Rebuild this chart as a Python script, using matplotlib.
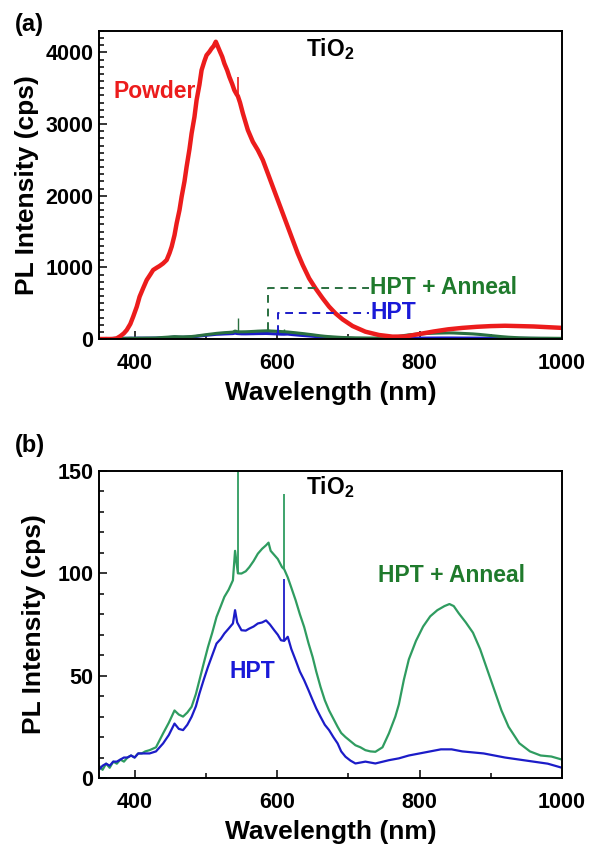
import matplotlib
matplotlib.use("Agg")
import matplotlib.pyplot as plt
from matplotlib.ticker import MultipleLocator

plt.rcParams['font.family'] = ['Liberation Sans', 'DejaVu Sans']
plt.rcParams['font.weight'] = 'bold'
plt.rcParams['mathtext.fontset'] = 'custom'
plt.rcParams['mathtext.rm'] = 'Liberation Sans'
plt.rcParams['mathtext.bf'] = 'Liberation Sans:bold'

# ---------------- data ----------------
wl_powder = [352, 370, 375, 380, 385, 389, 394, 398, 403, 407, 412, 417, 422, 426, 431,
             435, 440, 445, 449, 452, 456, 459, 463, 466, 470, 473, 477, 480, 484, 487,
             491, 494, 498, 501, 505, 508, 511, 514, 517, 519, 523, 526, 530, 533, 537,
             540, 543, 545, 548, 552, 559, 566, 573, 580, 587, 594, 601,
             608, 615, 622, 629, 636, 645, 654, 664, 673, 682, 692, 706, 724, 743, 762,
             780, 800, 820, 840, 860, 880, 900, 920, 940, 960, 980, 1000]
pl_powder = [0, 0, 10, 40, 80, 126, 210, 312, 450, 591, 710, 824, 900, 963, 995,
             1019, 1055, 1103, 1200, 1289, 1450, 1614, 1800, 1986, 2200, 2405, 2650, 2870, 3100, 3335,
             3550, 3753, 3880, 3962, 4010, 4055, 4090, 4150, 4080, 4032, 3940, 3846, 3750, 3660, 3560,
             3474, 3420, 3390, 3300, 3149, 2916, 2753, 2637, 2498, 2312, 2125, 1939,
             1753, 1567, 1381, 1196, 1033, 847, 707, 568, 452, 358, 274, 181, 102, 56, 33,
             35, 70, 105, 135, 155, 170, 180, 185, 180, 175, 165, 155]
# narrow spikes: wavelength, foot, top
spike_powder_wl = [545]
spike_powder_lo = [3390]
spike_powder_hi = [3660]

wl_anneal = [350, 355, 360, 365, 370, 375, 380, 385, 390, 395, 400, 405, 410, 415, 421,
             430, 440, 448, 456, 462, 468, 474, 480, 486, 491, 497, 503, 509, 515, 521,
             526, 532, 538, 541, 545, 550, 556, 561, 567, 573, 579, 584.5, 588,
             591, 596, 601, 607, 610, 615, 620, 626, 632, 638, 644, 650, 655,
             661, 667, 673, 679, 685, 690, 696, 703, 710, 717, 724, 731, 738, 748, 757,
             766, 771, 778, 785, 795, 805, 815, 825, 835, 842, 848, 855, 865, 875, 885,
             895, 905, 915, 925, 940, 955, 970, 985, 1000]
pl_anneal = [6, 4, 7, 5, 8, 7, 9, 8, 10, 11, 10, 12, 12, 13, 13.6,
             15, 21.8, 27, 33, 31, 30, 32, 34.8, 41, 47.8, 56, 64, 71, 78.7, 84,
             88.5, 92, 96.6, 111, 100, 99.9, 101, 103, 106, 109.6, 112, 113.7, 115,
             111, 109, 107, 103, 102, 98, 93, 86.9, 80, 73.8, 66, 59, 52,
             44.5, 38, 33, 29, 25, 22, 20, 18, 16, 15, 13.6, 13, 12.8, 15, 21.8,
             30, 36, 48, 58, 67, 74, 79, 82, 84, 85, 84, 80.5, 76, 71, 63,
             53, 43, 33, 25, 17, 13, 11, 10.5, 9]
spike_anneal_wl = [545, 610]
spike_anneal_lo = [100, 102]
spike_anneal_hi = [290, 139]

wl_hpt = [350, 355, 360, 365, 370, 375, 380, 385, 390, 395, 400, 405, 410, 415, 421,
          430, 440, 448, 456, 462, 468, 474, 480, 486, 491, 497, 503, 509, 515, 521,
          526, 532, 538, 541, 544, 550, 556, 561, 567, 573, 579, 584.5, 590, 596, 601,
          605.5, 610, 615, 620, 626, 632, 638, 644, 650, 655, 661, 667, 673,
          679, 685, 690, 696, 703, 710, 724, 738, 757, 771, 785, 800, 815, 830, 845,
          860, 875, 890, 905, 920, 940, 960, 980, 1000]
pl_hpt = [4, 6, 7, 6, 8, 8, 9, 10, 10, 11, 10, 12, 12, 12, 12,
          13, 16.9, 21, 26.6, 24, 23.4, 26, 29.9, 35, 41.3, 48, 54.3, 60, 65.7, 68,
          70.6, 73, 75.5, 82, 76, 72.2, 72, 73, 74, 75.5, 76, 77, 75, 72.2, 70,
          67.3, 67, 69, 63, 57.6, 52, 47.8, 43, 38, 34, 29.9, 26, 23.4,
          20, 16.9, 13, 10.4, 8.5, 7.1, 8, 7.1, 8.7, 9.6, 11, 12, 13, 14, 14,
          13, 12.5, 12, 11, 10, 9, 8, 7, 5]
spike_hpt_wl = [610]
spike_hpt_lo = [67]
spike_hpt_hi = [97.4]

x_ticks = [400, 600, 800, 1000]
y_ticks_a = [0, 1000, 2000, 3000, 4000]
y_ticks_b = [0, 50, 100, 150]

# ---------------- colours ----------------
RED = '#ec1c1c'
BLUE = '#1c1cc8'
GREEN_A = '#2a7040'
GREEN_B = '#2f9c60'
GREEN_TXT = '#1f7a2c'
BLUE_TXT = '#1a1ad8'

W, H = 591, 849
fig = plt.figure(figsize=(W / 100, H / 100), dpi=100)

def px_axes(left, top, right, bottom):
    return fig.add_axes([left / W, 1 - bottom / H, (right - left) / W, (bottom - top) / H])

axA = px_axes(99, 31, 562, 339)
axB = px_axes(99, 471, 562, 778)

def style(ax, yticks, ymax, yminor):
    ax.set_xlim(350, 1000)
    ax.set_ylim(0, ymax)
    ax.set_xticks(x_ticks)
    ax.set_yticks(yticks)
    ax.xaxis.set_minor_locator(MultipleLocator(100))
    ax.yaxis.set_minor_locator(MultipleLocator(yminor))
    ax.tick_params(which='both', direction='in', top=False, right=False, labelsize=15.5,
                   width=1.1, colors='black')
    ax.tick_params(axis='x', which='major', length=6, pad=10)
    ax.tick_params(axis='x', which='minor', length=3.5)
    ax.tick_params(axis='y', which='major', length=6, pad=4)
    ax.tick_params(axis='y', which='minor', length=3.5)
    for lab in ax.get_xticklabels() + ax.get_yticklabels():
        lab.set_fontweight('bold')
    for s in ax.spines.values():
        s.set_linewidth(1.4)
    ax.set_xlabel('Wavelength (nm)', fontsize=19, fontweight='bold')
    ax.set_ylabel('PL Intensity (cps)', fontsize=19, fontweight='bold')

# ---------------- panel (a) ----------------
axA.plot(wl_hpt, pl_hpt, color=BLUE, lw=2.2)
axA.vlines(spike_hpt_wl, spike_hpt_lo, spike_hpt_hi, color=BLUE, lw=1.0)
axA.plot(wl_anneal, pl_anneal, color=GREEN_A, lw=2.2)
axA.vlines(spike_anneal_wl, spike_anneal_lo, spike_anneal_hi, color=GREEN_A, lw=1.0)
axA.plot(wl_powder, pl_powder, color=RED, lw=3.2)
axA.vlines(spike_powder_wl, spike_powder_lo, spike_powder_hi, color=RED, lw=1.2)
style(axA, y_ticks_a, 4300, 100)

axA.plot([587, 587, 729], [120, 717, 717], color=GREEN_A, lw=1.4, ls=(0, (4, 3)))
axA.plot([601, 601, 729], [80, 368, 368], color=BLUE, lw=1.4, ls=(0, (4, 3)))
axA.text(731, 717, 'HPT + Anneal', color=GREEN_TXT, fontsize=16.5, fontweight='bold',
         ha='left', va='center')
axA.text(731, 368, 'HPT', color=BLUE_TXT, fontsize=16.5, fontweight='bold',
         ha='left', va='center')
axA.text(486, 3460, 'Powder', color=RED, fontsize=16.5, fontweight='bold',
         ha='right', va='center')
axA.text(640, 4050, r'TiO$_\mathbf{2}$', color='black', fontsize=16.5, fontweight='bold',
         ha='left', va='center')

# ---------------- panel (b) ----------------
axB.plot(wl_anneal, pl_anneal, color=GREEN_B, lw=1.6)
axB.vlines(spike_anneal_wl, spike_anneal_lo, spike_anneal_hi, color=GREEN_B, lw=1.3)
axB.plot(wl_hpt, pl_hpt, color=BLUE, lw=1.6)
axB.vlines(spike_hpt_wl, spike_hpt_lo, spike_hpt_hi, color=BLUE, lw=1.3)
style(axB, y_ticks_b, 150, 10)
axB.text(741, 99, 'HPT + Anneal', color=GREEN_TXT, fontsize=16.5, fontweight='bold',
         ha='left', va='center')
axB.text(533, 52, 'HPT', color=BLUE_TXT, fontsize=16.5, fontweight='bold',
         ha='left', va='center')
axB.text(640, 142, r'TiO$_\mathbf{2}$', color='black', fontsize=16.5, fontweight='bold',
         ha='left', va='center')

# label positions
for ax, ylab_x in ((axA, 27), (axB, 34)):
    ax.xaxis.label.set_va('center')
    ax.xaxis.set_label_coords(0.5, -54 / 308)
    ax.yaxis.label.set_va('center')
    ax.yaxis.set_label_coords((ylab_x - 99) / 463, 0.5)

fig.text(15 / W, 1 - 25 / H, '(a)', fontsize=17, fontweight='bold', ha='left', va='center')
fig.text(15 / W, 1 - 446 / H, '(b)', fontsize=17, fontweight='bold', ha='left', va='center')

fig.savefig('out.png', dpi=100)
